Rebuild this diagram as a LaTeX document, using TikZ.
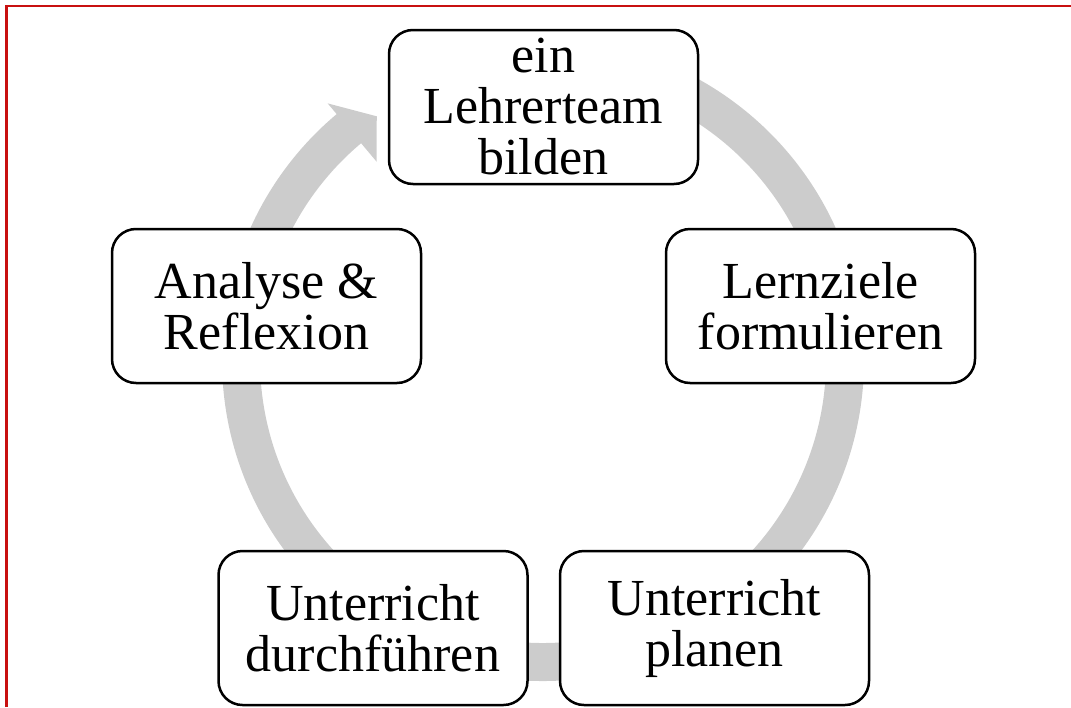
\documentclass[tikz,border=0pt]{standalone}
\usepackage{fontspec}
\setmainfont{Liberation Serif}
\usetikzlibrary{positioning}

\definecolor{ringgray}{RGB}{204,204,204}
\definecolor{framered}{RGB}{200,16,16}
\tikzset{
  stage/.style={draw, line width=2.5pt, rounded corners=24pt, fill=white,
    minimum width=309pt, minimum height=154pt, inner sep=0pt, align=center,
    font=\fontsize{52}{51}\selectfont}
}

\begin{document}
\begin{tikzpicture}[x=1pt,y=-1pt]
\useasboundingbox (0,0) rectangle (1071,707);

% grey cycle arrow
\coordinate (c) at (543,360);
\draw[ringgray, line width=38pt] (c) ++(95:302pt) arc[start angle=95, end angle=-231, radius=302pt];
\begin{scope}[shift={(c)}]
\fill[ringgray] (130:259pt) -- (124.3:295pt) -- (130:335pt) -- cycle;
\end{scope}

% the five steps
\node[stage] (team) at (543.5,107) {ein\\Lehrerteam\\bilden};
\node[stage] (ziele) at (820.5,306) {Lernziele\\formulieren};
\node[stage] (planen) at (714.5,628) {Unterricht\\planen};
\node[stage] (durch) at (373,628) {Unterricht\\durchführen};
\node[stage] (analyse) at (266.5,306) {Analyse \&\\Reflexion};

% Red frame
\draw[framered, line width=2.2pt] (6.5,707) -- (6.5,6) -- (1071,6);

% -------------------------------------------

\end{tikzpicture}
\end{document}
